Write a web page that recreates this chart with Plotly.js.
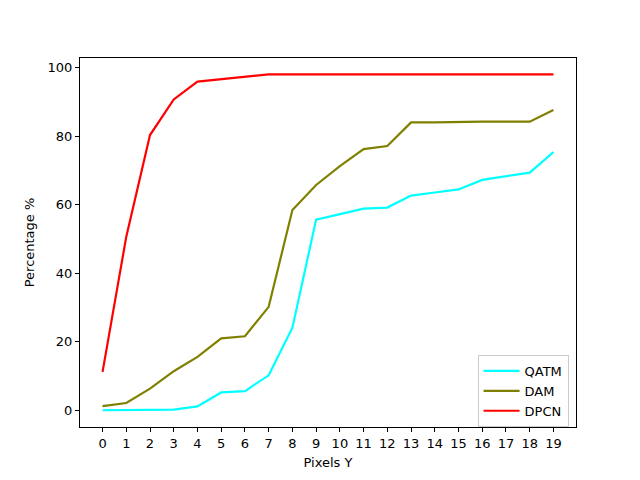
<!DOCTYPE html>
<html>
<head>
<meta charset="utf-8">
<script src="https://cdn.plot.ly/plotly-3.0.1.min.js"></script>
<style>html,body{margin:0;padding:0;background:#fff;}#chart{width:640px;height:480px;}</style>
</head>
<body>
<div id="chart"></div>
<script>
const pixelsY = [0,1,2,3,4,5,6,7,8,9,10,11,12,13,14,15,16,17,18,19];
const qatm = [0,0,0.2,0.2,1.1,5.2,5.6,10.2,24.1,55.7,57.3,58.9,59.2,62.7,63.6,64.5,67.3,68.3,69.4,75.4];
const dam  = [1.2,2.1,6.3,11.4,15.6,21.0,21.6,30.2,58.5,65.8,71.3,76.3,77.2,84.1,84.1,84.3,84.3,84.3,84.3,87.7];
const dpcn = [11.2,50.7,80.4,90.8,96.0,96.7,97.4,98.1,98.1,98.1,98.1,98.1,98.1,98.1,98.1,98.1,98.1,98.1,98.1,98.1];
const seriesNames = ['QATM','DAM','DPCN'];
const seriesColors = ['#00FFFF','#808000','#FF0000'];
const seriesData = [qatm, dam, dpcn];

const traces = seriesData.map((d,i)=>({
  x: pixelsY, y: d, type:'scatter', mode:'lines', name: seriesNames[i],
  line:{color:seriesColors[i], width:2.2}
}));

const axisCommon = {
  showgrid:false, zeroline:false, showline:true, mirror:true,
  linecolor:'#000', linewidth:1, ticks:'outside', ticklen:4, tickcolor:'#000',
  tickfont:{family:'DejaVu Sans', size:13, color:'#000'}
};

const layout = {
  width:640, height:480,
  margin:{l:80, r:64, t:58, b:53},
  paper_bgcolor:'#fff', plot_bgcolor:'#fff',
  font:{family:'DejaVu Sans', size:13, color:'#000'},
  xaxis: Object.assign({}, axisCommon, {
    range:[-0.95,19.95], tickvals: pixelsY, ticktext: pixelsY.map(String),
    title:{text:'Pixels Y', font:{family:'DejaVu Sans', size:13}, standoff:8}
  }),
  yaxis: Object.assign({}, axisCommon, {
    range:[-4.9,102.9], tickvals:[0,20,40,60,80,100],
    title:{text:'Percentage %', font:{family:'DejaVu Sans', size:13}, standoff:10}
  }),
  showlegend:true,
  legend:{x:0.985, xanchor:'right', y:0.0, yanchor:'bottom',
    bordercolor:'#cccccc', borderwidth:1, bgcolor:'rgba(255,255,255,0.8)',
    font:{family:'DejaVu Sans', size:13}, tracegroupgap:0, itemwidth:36}
};

Plotly.newPlot('chart', traces, layout, {displayModeBar:false, staticPlot:true});
</script>
</body>
</html>
